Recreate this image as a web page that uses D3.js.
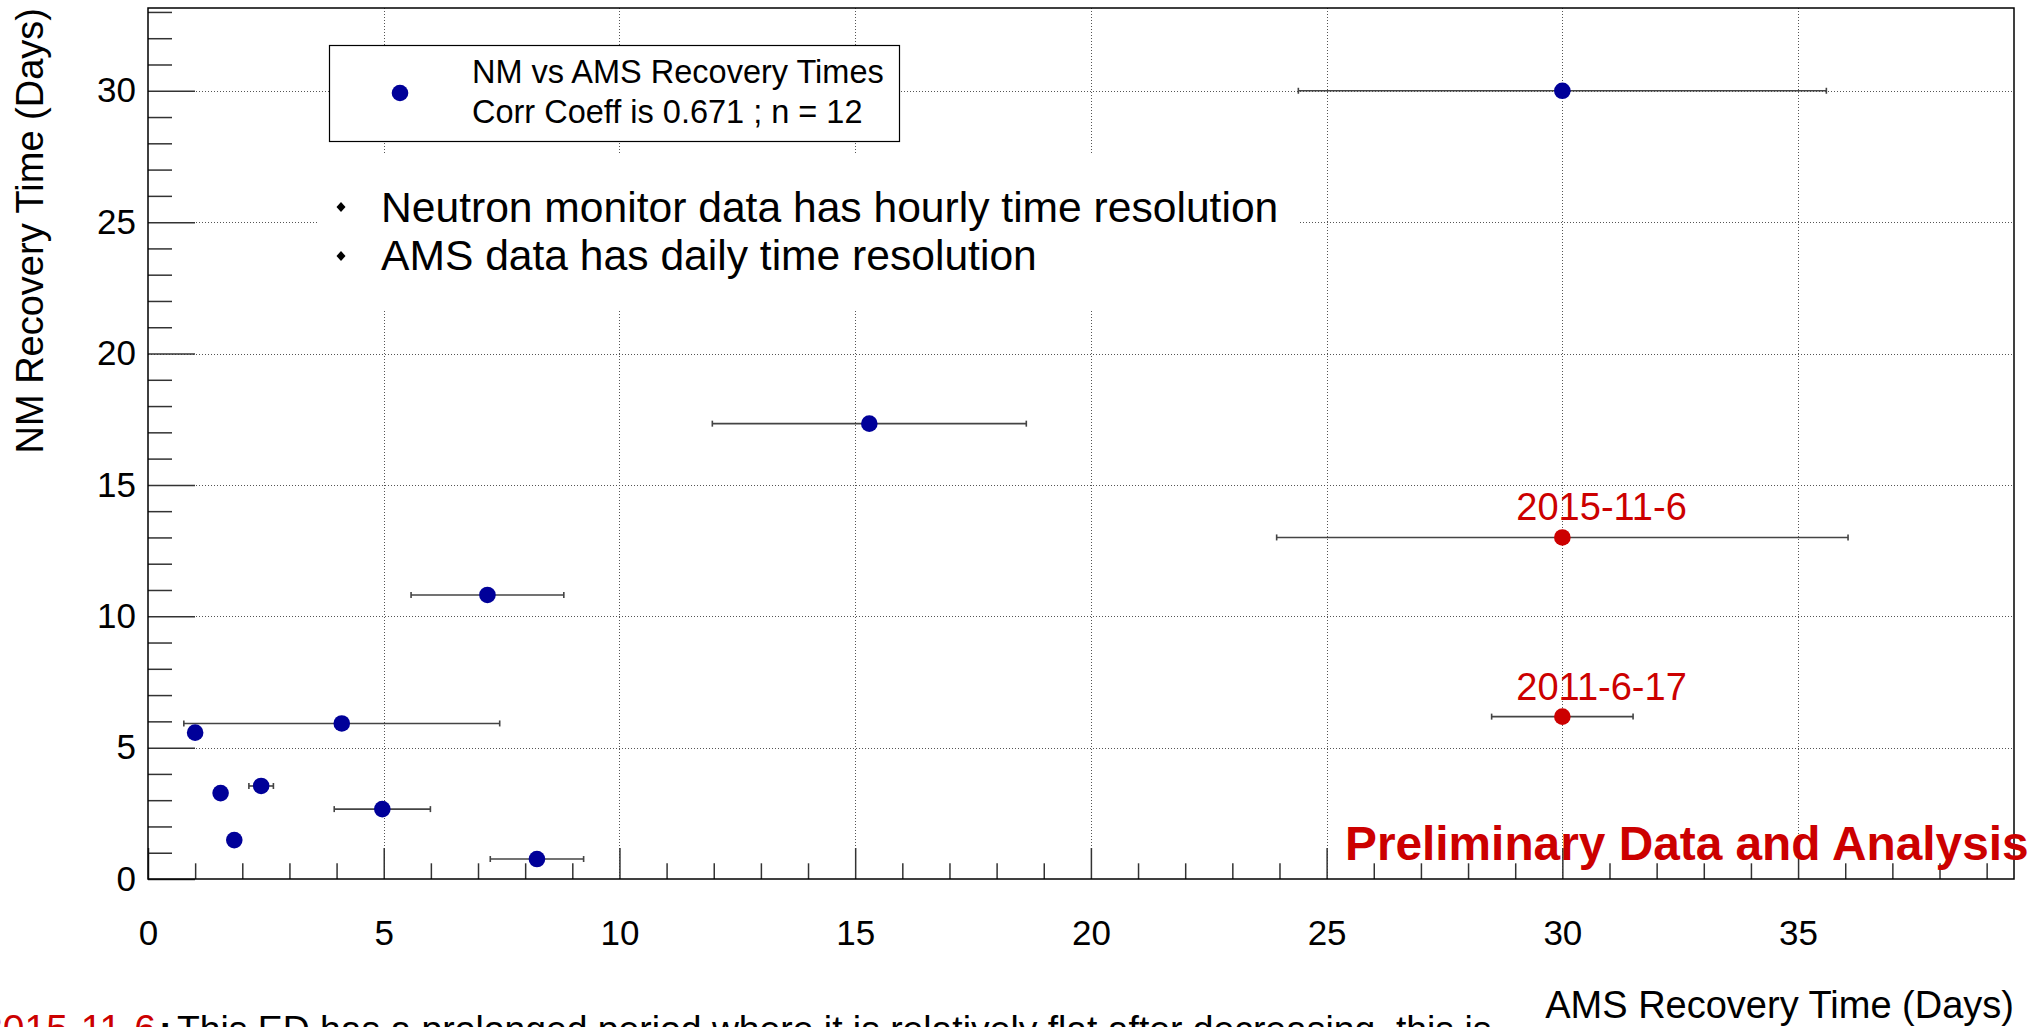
<!DOCTYPE html>
<html>
<head>
<meta charset="utf-8">
<script src="https://cdn.jsdelivr.net/npm/d3@7"></script>
<style>
  html, body { margin: 0; padding: 0; background: #ffffff; overflow: hidden; }
  svg { display: block; font-family: "Liberation Sans", Arial, Helvetica, sans-serif; }
</style>
</head>
<body>
<script>
// ---------------- data ----------------
const amsDays = [30.0, 15.3, 7.2, 4.11, 1.0, 1.54, 2.40, 1.83, 4.97, 8.25];
const nmDays  = [30.0, 17.33, 10.81, 5.92, 5.57, 3.27, 3.54, 1.48, 2.66, 0.76];
const amsErr  = [5.6, 3.33, 1.62, 3.35, 0, 0, 0.26, 0, 1.02, 0.99];

const flaggedDates = ["2015-11-6", "2011-6-17"];
const flaggedAms   = [30.0, 30.0];
const flaggedNm    = [13.0, 6.18];
const flaggedErr   = [6.06, 1.5];

const xMajorTicks = [0, 5, 10, 15, 20, 25, 30, 35];
const yMajorTicks = [0, 5, 10, 15, 20, 25, 30];
const xMinorTicks = d3.range(0, 40).filter(v => v % 5 !== 0);
const yMinorTicks = d3.range(0, 34).filter(v => v % 5 !== 0);

const legendLines = ["NM vs AMS Recovery Times", "Corr Coeff is 0.671 ; n = 12"];
const bulletLines = ["Neutron monitor data has hourly time resolution", "AMS data has daily time resolution"];
const xTitle = "AMS Recovery Time (Days)";
const yTitle = "NM Recovery Time (Days)";
const watermark = "Preliminary Data and Analysis";
const noteDate = "2015-11-6";
const noteText = "This ED has a prolonged period where it is relatively flat after decreasing, this is";

// ---------------- layout ----------------
const W = 2037, H = 1027;
const frame = {left: 148, right: 2014, top: 8, bottom: 879};
const BLUE = "#000099", RED = "#cc0000";

const x = d3.scaleLinear().domain([0, 39.58]).range([frame.left, frame.right]);
const y = d3.scaleLinear().domain([0, 33.15]).range([frame.bottom, frame.top]);

const svg = d3.select("body").append("svg").attr("width", W).attr("height", H);
svg.append("rect").attr("width", W).attr("height", H).attr("fill", "#fff");

// grid
const grid = svg.append("g").attr("stroke", "#555").attr("stroke-width", 1).attr("stroke-dasharray", "1,2");
grid.selectAll("line.gx").data(xMajorTicks.filter(v => v > 0)).join("line")
  .attr("class", "gx")
  .attr("x1", d => Math.round(x(d)) + 0.5).attr("x2", d => Math.round(x(d)) + 0.5)
  .attr("y1", frame.top).attr("y2", frame.bottom);
grid.selectAll("line.gy").data(yMajorTicks.filter(v => v > 0)).join("line")
  .attr("class", "gy")
  .attr("x1", frame.left).attr("x2", frame.right)
  .attr("y1", d => Math.round(y(d)) + 0.5).attr("y2", d => Math.round(y(d)) + 0.5);

// white pave behind bullet text
svg.append("rect").attr("x", 317).attr("y", 153).attr("width", 981).attr("height", 157).attr("fill", "#fff");

// legend box
const leg = svg.append("g");
leg.append("rect").attr("x", 329.5).attr("y", 45.5).attr("width", 570).attr("height", 96)
  .attr("fill", "#fff").attr("stroke", "#000").attr("stroke-width", 1.2);
leg.append("circle").attr("cx", 400).attr("cy", 93).attr("r", 8.3).attr("fill", BLUE);
leg.selectAll("text").data(legendLines).join("text")
  .attr("x", 472).attr("y", (d, i) => 83 + i * 40)
  .attr("font-size", 32.5).attr("fill", "#000").text(d => d);

// bullet pave
const bul = svg.append("g");
bul.selectAll("path").data(bulletLines).join("path")
  .attr("d", (d, i) => { const cx = 341, cy = 207 + i * 49; return `M${cx},${cy-5}L${cx+4.5},${cy}L${cx},${cy+5}L${cx-4.5},${cy}Z`; })
  .attr("fill", "#000");
bul.selectAll("text").data(bulletLines).join("text")
  .attr("x", 381).attr("y", (d, i) => 222 + i * 48)
  .attr("font-size", 42.6).attr("fill", "#000").text(d => d);

// error bars
function drawErr(g, xs, ys, es) {
  const data = xs.map((v, i) => ({x: v, y: ys[i], e: es[i]})).filter(d => d.e > 0);
  const eg = g.append("g").attr("stroke", "#444").attr("stroke-width", 1.6).attr("fill", "none");
  eg.selectAll("line.h").data(data).join("line").attr("class", "h")
    .attr("x1", d => x(d.x - d.e)).attr("x2", d => x(d.x + d.e))
    .attr("y1", d => y(d.y)).attr("y2", d => y(d.y));
  eg.selectAll("line.l").data(data).join("line").attr("class", "l")
    .attr("x1", d => x(d.x - d.e)).attr("x2", d => x(d.x - d.e))
    .attr("y1", d => y(d.y) - 3).attr("y2", d => y(d.y) + 3);
  eg.selectAll("line.r").data(data).join("line").attr("class", "r")
    .attr("x1", d => x(d.x + d.e)).attr("x2", d => x(d.x + d.e))
    .attr("y1", d => y(d.y) - 3).attr("y2", d => y(d.y) + 3);
}
const plot = svg.append("g");
drawErr(plot, amsDays, nmDays, amsErr);
drawErr(plot, flaggedAms, flaggedNm, flaggedErr);

plot.selectAll("circle.blue").data(amsDays).join("circle").attr("class", "blue")
  .attr("cx", (d, i) => x(d)).attr("cy", (d, i) => y(nmDays[i])).attr("r", 8.3).attr("fill", BLUE);
plot.selectAll("circle.red").data(flaggedAms).join("circle").attr("class", "red")
  .attr("cx", (d, i) => x(d)).attr("cy", (d, i) => y(flaggedNm[i])).attr("r", 8.3).attr("fill", RED);

// date labels
plot.selectAll("text.date").data(flaggedDates).join("text").attr("class", "date")
  .attr("x", (d, i) => x(flaggedAms[i]) - 46)
  .attr("y", (d, i) => y(flaggedNm[i]) - 17)
  .attr("font-size", 38).attr("fill", RED).text(d => d);

// axes (ticks inside frame, ROOT style)
function styleAxis(g) {
  g.select(".domain").remove();
  g.selectAll(".tick line").attr("stroke", "#333").attr("stroke-width", 1.5);
  g.selectAll("text").attr("font-size", 35).attr("fill", "#000")
    .attr("font-family", "'Liberation Sans', Arial, sans-serif");
}
svg.append("g").attr("transform", `translate(0,${frame.bottom})`)
  .call(d3.axisBottom(x).tickValues(xMinorTicks).tickSizeInner(-15.7).tickSizeOuter(0).tickFormat(""))
  .call(styleAxis);
svg.append("g").attr("transform", `translate(0,${frame.bottom})`)
  .call(d3.axisBottom(x).tickValues(xMajorTicks).tickSizeInner(-31).tickSizeOuter(0).tickPadding(41).tickFormat(d3.format("d")))
  .call(styleAxis);
svg.append("g").attr("transform", `translate(${frame.left},0)`)
  .call(d3.axisLeft(y).tickValues(yMinorTicks).tickSizeInner(-24).tickSizeOuter(0).tickFormat(""))
  .call(styleAxis);
svg.append("g").attr("transform", `translate(${frame.left},0)`)
  .call(d3.axisLeft(y).tickValues(yMajorTicks).tickSizeInner(-47).tickSizeOuter(0).tickPadding(12).tickFormat(d3.format("d")))
  .call(styleAxis);

// frame
svg.append("rect").attr("x", frame.left).attr("y", frame.top)
  .attr("width", frame.right - frame.left).attr("height", frame.bottom - frame.top)
  .attr("fill", "none").attr("stroke", "#000").attr("stroke-width", 1.5);

// axis titles
svg.append("text").attr("x", frame.right).attr("y", 1018).attr("text-anchor", "end")
  .attr("font-size", 38).attr("fill", "#000").text(xTitle);
svg.append("text").attr("transform", `translate(43,${frame.top}) rotate(-90)`).attr("text-anchor", "end")
  .attr("font-size", 38).attr("fill", "#000").text(yTitle);

// watermark
svg.append("text").attr("x", 1345).attr("y", 860).attr("font-size", 47.8).attr("font-weight", "bold")
  .attr("fill", RED).text(watermark);

// bottom note (cut off by the image edge, as in the reference)
svg.append("text").attr("x", 156).attr("y", 1042).attr("text-anchor", "end")
  .attr("font-size", 39).attr("fill", RED).text(noteDate);
svg.append("text").attr("x", 159).attr("y", 1042).attr("font-size", 37.3).attr("font-weight", "bold")
  .attr("fill", "#000").text(":");
svg.append("text").attr("x", 177).attr("y", 1042).attr("font-size", 37.3)
  .attr("fill", "#000").text(noteText);
</script>
</body>
</html>
